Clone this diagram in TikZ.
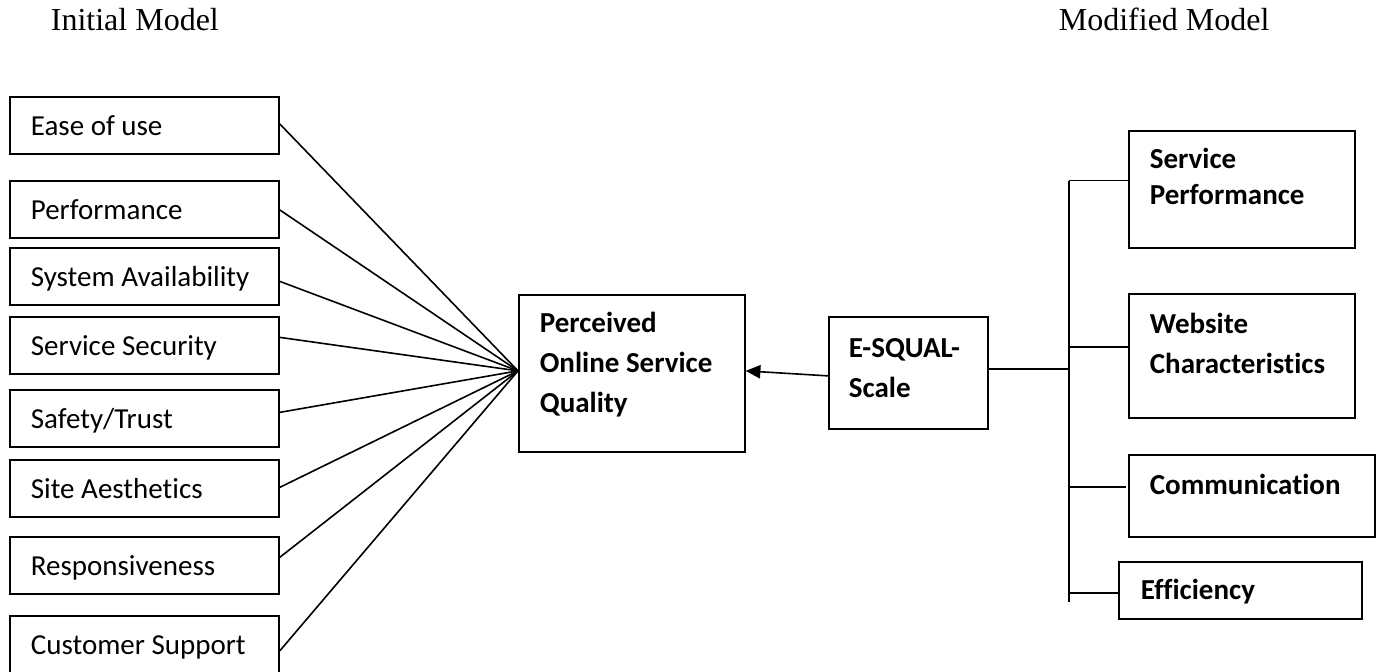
\documentclass[tikz,border=0pt]{standalone}
\usepackage{fontspec}
\setmainfont[Ligatures=NoCommon]{Carlito}
\newfontfamily\titlefont{Liberation Serif}
\usetikzlibrary{arrows.meta}
\newlength\upx \setlength\upx{0.75pt}
\newcommand\bxt[5]{\parbox[c][#2\upx][t]{#1\upx}{\leftskip=#3\upx\relax\rule{0pt}{#4\upx}\ignorespaces#5}}
\begin{document}
\begin{tikzpicture}[x=0.75pt,y=-0.75pt,line width=1.3pt,
  box/.style={draw,inner sep=0pt,anchor=north west,font=\fontsize{21.75pt}{30pt}\selectfont},
  bbox/.style={box,font=\fontsize{21.75pt}{30pt}\selectfont\bfseries},
  conn/.style={line width=1.2pt},
  ttl/.style={anchor=base west,inner sep=0pt,font=\titlefont\fontsize{24pt}{28pt}\selectfont}]
\useasboundingbox (0,0) rectangle (1381,671);

% titles
\node[ttl] (t1) at (50,31) {Initial Model};
\node[ttl] (t2) at (1058,31) {Modified Model};

% left boxes
\node[box] (ease)   at (9,96)  {\bxt{269}{57}{21}{38.5}{Ease of use}};
\node[box] (perf)   at (9,180) {\bxt{269}{57}{21}{38.5}{Performance}};
\node[box] (sysav)  at (9,247) {\bxt{269}{57}{21}{38.5}{System Availability}};
\node[box] (secur)  at (9,316) {\bxt{269}{57}{21}{38.5}{Service Security}};
\node[box] (safety) at (9,389) {\bxt{269}{57}{21}{38.5}{Safety/Trust}};
\node[box] (aesth)  at (9,459) {\bxt{269}{57}{21}{38.5}{Site Aesthetics}};
\node[box] (resp)   at (9,536) {\bxt{269}{57}{21}{38.5}{Responsiveness}};
\node[box] (cust)   at (9,615) {\bxt{269}{57}{21}{38.5}{Customer Support}};

% centre boxes
\node[bbox] (posq) at (518,294) {\bxt{226}{157}{21}{38}{Perceived\\Online Service\\Quality}};
\node[bbox] (esq)  at (828,316) {\bxt{159}{112}{20}{41}{E-SQUAL-\\Scale}};

% right boxes
\node[bbox] (sp)   at (1128,130) {\bxt{226}{117}{21}{38}{\baselineskip=27pt Service\\Performance}};
\node[bbox] (ws)   at (1128,293) {\bxt{226}{124}{21}{40}{Website\\Characteristics}};
\node[bbox] (comm) at (1128,454) {\bxt{246}{82}{21}{40}{Communication}};
\node[bbox] (eff)  at (1118,561) {\bxt{243}{57}{22}{38}{Efficiency}};

% fan-in connectors
\foreach \n/\s in {ease/1.1pt,perf/-0.4pt,sysav/-3.75pt,secur/6pt,safety/4.5pt,aesth/0.75pt,resp/6pt,cust/-4.9pt}
  \draw[conn] ([yshift=\s]\n.east) -- ([yshift=1.875pt]posq.west);

% arrow E-SQUAL -> perceived
\draw[conn,-{Triangle[length=11pt,width=10pt]}] ([yshift=-2.25pt]esq.west) -- ([yshift=1.875pt]posq.east);

% right trunk
\coordinate (trtop) at (1069,180.5);
\coordinate (trbot) at (1069,602);
\coordinate (brws) at (1069,347);
\coordinate (bres) at (1069,369);
\coordinate (brcm) at (1069,487);
\coordinate (bref) at (1069,593);
\draw[conn] (trtop) -- (trbot);
\draw[conn] (trtop) -- (trtop -| sp.west);
\draw[conn] (brws) -- (brws -| ws.west);
\draw[conn] (bres -| esq.east) -- (bres);
\draw[conn] (brcm) -- ([xshift=-1.5pt]brcm -| comm.west);
\draw[conn] (bref) -- (bref -| eff.west);
\end{tikzpicture}
\end{document}
